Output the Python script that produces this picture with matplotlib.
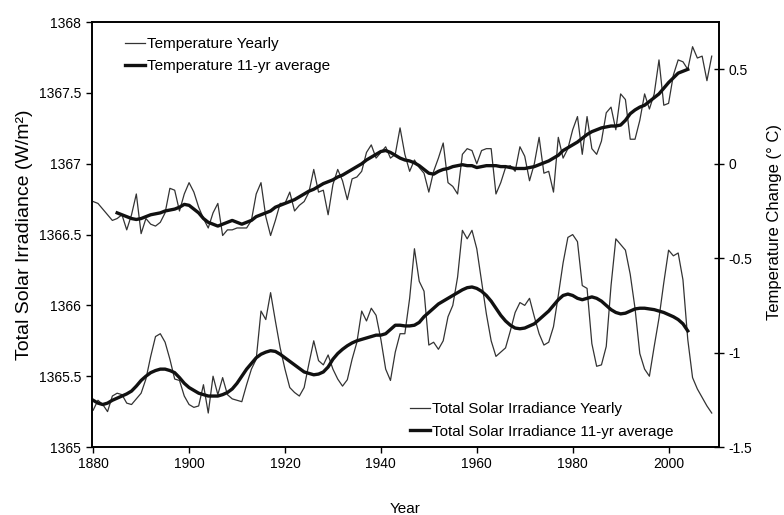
import matplotlib.pyplot as plt
import numpy as np
from matplotlib.ticker import FormatStrFormatter

plt.rcParams['font.family'] = ['Liberation Sans', 'DejaVu Sans']
plt.rcParams['axes.unicode_minus'] = False

# Yearly series 1880-2009
years = np.arange(1880, 2010)

temp_yearly = [
    -0.20, -0.21, -0.24, -0.27, -0.30, -0.29, -0.27, -0.35, -0.27, -0.16,
    -0.37, -0.29, -0.32, -0.33, -0.31, -0.26, -0.13, -0.14, -0.25, -0.16,
    -0.10, -0.15, -0.23, -0.29, -0.34, -0.26, -0.21, -0.38, -0.35, -0.35,
    -0.34, -0.34, -0.34, -0.30, -0.16, -0.10, -0.28, -0.38, -0.30, -0.21,
    -0.21, -0.15, -0.25, -0.22, -0.20, -0.15, -0.03, -0.15, -0.14, -0.27,
    -0.11, -0.03, -0.09, -0.19, -0.08, -0.07, -0.04, 0.06, 0.10, 0.03,
    0.06, 0.09, 0.03, 0.05, 0.19, 0.05, -0.04, 0.02, -0.02, -0.05,
    -0.15, -0.04, 0.03, 0.11, -0.10, -0.12, -0.16, 0.05, 0.08, 0.07,
    0.00, 0.07, 0.08, 0.08, -0.16, -0.10, -0.02, -0.01, -0.04, 0.09,
    0.04, -0.09, 0.00, 0.14, -0.05, -0.04, -0.15, 0.14, 0.03, 0.08,
    0.18, 0.25, 0.05, 0.25, 0.08, 0.05, 0.12, 0.27, 0.30, 0.18,
    0.37, 0.34, 0.13, 0.13, 0.23, 0.37, 0.29, 0.37, 0.55, 0.31,
    0.32, 0.47, 0.55, 0.54, 0.50, 0.62, 0.56, 0.57, 0.44, 0.57,
]

tsi_yearly = [
    1365.26, 1365.33, 1365.30, 1365.25, 1365.36, 1365.38, 1365.37, 1365.31, 1365.30, 1365.34,
    1365.38, 1365.48, 1365.64, 1365.78, 1365.80, 1365.74, 1365.62, 1365.48, 1365.47, 1365.36,
    1365.30, 1365.28, 1365.29, 1365.44, 1365.24, 1365.50, 1365.37, 1365.49, 1365.37, 1365.34,
    1365.33, 1365.32, 1365.44, 1365.55, 1365.62, 1365.96, 1365.90, 1366.09, 1365.89, 1365.70,
    1365.55, 1365.42, 1365.385, 1365.36, 1365.42, 1365.59, 1365.75, 1365.61, 1365.58, 1365.65,
    1365.55, 1365.48, 1365.43, 1365.475, 1365.62, 1365.74, 1365.96, 1365.89, 1365.98, 1365.93,
    1365.76, 1365.55, 1365.47, 1365.67, 1365.80, 1365.80, 1366.05, 1366.40, 1366.17, 1366.10,
    1365.72, 1365.74, 1365.69, 1365.75, 1365.92, 1366.00, 1366.20, 1366.53, 1366.47, 1366.53,
    1366.40, 1366.17, 1365.94, 1365.75, 1365.64, 1365.67, 1365.70, 1365.82, 1365.95, 1366.02,
    1366.00, 1366.05, 1365.92, 1365.80, 1365.72, 1365.74, 1365.85, 1366.07, 1366.30, 1366.48,
    1366.50, 1366.45, 1366.14, 1366.12, 1365.73, 1365.57, 1365.58, 1365.71, 1366.14, 1366.47,
    1366.43, 1366.39, 1366.22, 1365.98, 1365.66, 1365.55, 1365.50, 1365.71, 1365.91, 1366.16,
    1366.39, 1366.35, 1366.37, 1366.18, 1365.76, 1365.49, 1365.41, 1365.35, 1365.29, 1365.24,
]

# 11-yr running means (centred)
temp_avg_years = np.arange(1885, 2005)
temp_avg = [
    -0.26, -0.27, -0.28, -0.29, -0.295,
    -0.29, -0.28, -0.27, -0.265, -0.26, -0.25, -0.245, -0.24, -0.23, -0.215,
    -0.22, -0.24, -0.26, -0.29, -0.31, -0.32, -0.33, -0.32, -0.31, -0.30,
    -0.31, -0.32, -0.31, -0.30, -0.28, -0.27, -0.26, -0.25, -0.23, -0.22,
    -0.21, -0.20, -0.19, -0.175, -0.16, -0.145, -0.135, -0.12, -0.105, -0.095,
    -0.085, -0.07, -0.06, -0.045, -0.03, -0.015, 0.00, 0.02, 0.035, 0.05,
    0.065, 0.07, 0.06, 0.045, 0.03, 0.02, 0.015, 0.005, -0.01, -0.03,
    -0.05, -0.055, -0.04, -0.03, -0.025, -0.015, -0.01, -0.005, -0.01, -0.01,
    -0.02, -0.015, -0.01, -0.01, -0.01, -0.015, -0.015, -0.02, -0.025, -0.025,
    -0.025, -0.02, -0.015, -0.005, 0.005, 0.015, 0.03, 0.045, 0.07, 0.085,
    0.10, 0.115, 0.135, 0.155, 0.17, 0.18, 0.19, 0.195, 0.20, 0.20,
    0.205, 0.23, 0.265, 0.285, 0.30, 0.31, 0.33, 0.35, 0.37, 0.40,
    0.43, 0.455, 0.48, 0.49, 0.50,
]

tsi_avg_years = np.arange(1880, 2005)
tsi_avg = [
    1365.33, 1365.31, 1365.30, 1365.31, 1365.33, 1365.345, 1365.36, 1365.375, 1365.395, 1365.43,
    1365.47, 1365.50, 1365.525, 1365.54, 1365.55, 1365.55, 1365.54, 1365.525, 1365.49, 1365.45,
    1365.42, 1365.40, 1365.38, 1365.37, 1365.36, 1365.36, 1365.36, 1365.37, 1365.385, 1365.41,
    1365.45, 1365.50, 1365.55, 1365.59, 1365.63, 1365.655, 1365.67, 1365.68, 1365.675, 1365.655,
    1365.63, 1365.605, 1365.58, 1365.555, 1365.53, 1365.52, 1365.51, 1365.515, 1365.53, 1365.565,
    1365.62, 1365.66, 1365.69, 1365.715, 1365.735, 1365.75, 1365.76, 1365.77, 1365.78, 1365.79,
    1365.79, 1365.80, 1365.83, 1365.86, 1365.86, 1365.855, 1365.855, 1365.86, 1365.88, 1365.92,
    1365.95, 1365.98, 1366.01, 1366.03, 1366.05, 1366.07, 1366.09, 1366.11, 1366.125, 1366.13,
    1366.12, 1366.10, 1366.07, 1366.03, 1365.98, 1365.93, 1365.89, 1365.86, 1365.84, 1365.835,
    1365.84, 1365.855, 1365.87, 1365.90, 1365.93, 1365.96, 1366.00, 1366.04, 1366.07, 1366.08,
    1366.07, 1366.05, 1366.04, 1366.05, 1366.06, 1366.05, 1366.03, 1366.00, 1365.97, 1365.95,
    1365.94, 1365.945, 1365.96, 1365.975, 1365.98, 1365.98, 1365.975, 1365.97, 1365.96, 1365.95,
    1365.935, 1365.92, 1365.90, 1365.87, 1365.82,
]

x_ticks = [1880, 1900, 1920, 1940, 1960, 1980, 2000]
tsi_ticks = [1365, 1365.5, 1366, 1366.5, 1367, 1367.5, 1368]
temp_ticks = [-1.5, -1, -0.5, 0, 0.5]

thin_col = '#333333'
thick_col = '#111111'

fig = plt.figure(figsize=(7.84, 5.15), dpi=100)
ax = fig.add_axes([0.117, 0.132, 0.80, 0.825])
ax2 = ax.twinx()

s1, = ax.plot(years, tsi_yearly, color=thin_col, lw=0.9,
              label='Total Solar Irradiance Yearly')
s2, = ax.plot(tsi_avg_years, tsi_avg, color=thick_col, lw=2.4,
              label='Total Solar Irradiance 11-yr average')
t1, = ax2.plot(years, temp_yearly, color=thin_col, lw=0.9,
               label='Temperature Yearly')
t2, = ax2.plot(temp_avg_years, temp_avg, color=thick_col, lw=2.4,
               label='Temperature 11-yr average')

ax.set_xlim(1879.7, 2010.5)
ax.set_ylim(1365, 1368)
ax2.set_ylim(-1.5, 0.75)

ax.set_xticks(x_ticks)
ax.set_yticks(tsi_ticks)
ax2.set_yticks(temp_ticks)
ax.yaxis.set_major_formatter(FormatStrFormatter('%g'))
ax2.yaxis.set_major_formatter(FormatStrFormatter('%g'))

ax.tick_params(axis='both', direction='out', length=4, width=1, labelsize=10,
               colors='black')
ax2.tick_params(axis='y', direction='inout', length=7, width=1, labelsize=10)

for a in (ax, ax2):
    for sp in a.spines.values():
        sp.set_linewidth(1.2)
        sp.set_color('black')

ax.set_xlabel('Year', fontsize=11, labelpad=22)
ax.set_ylabel('Total Solar Irradiance (W/m²)', fontsize=14)
ax.yaxis.set_label_coords(-0.094, 0.5)
ax2.set_ylabel('Temperature Change (° C)', fontsize=12)
ax2.yaxis.set_label_coords(1.077, 0.53)

leg_top = ax2.legend(handles=[t1, t2], loc='upper left',
                     bbox_to_anchor=(0.053, 0.965), frameon=False,
                     fontsize=11, handlelength=1.3, handletextpad=0.15,
                     labelspacing=0.55, borderpad=0, borderaxespad=0)
ax2.add_artist(leg_top)
ax2.legend(handles=[s1, s2], loc='lower left',
           bbox_to_anchor=(0.507, 0.02), frameon=False,
           fontsize=11, handlelength=1.3, handletextpad=0.15,
           labelspacing=0.55, borderpad=0, borderaxespad=0)

fig.savefig('out.png', dpi=100)
